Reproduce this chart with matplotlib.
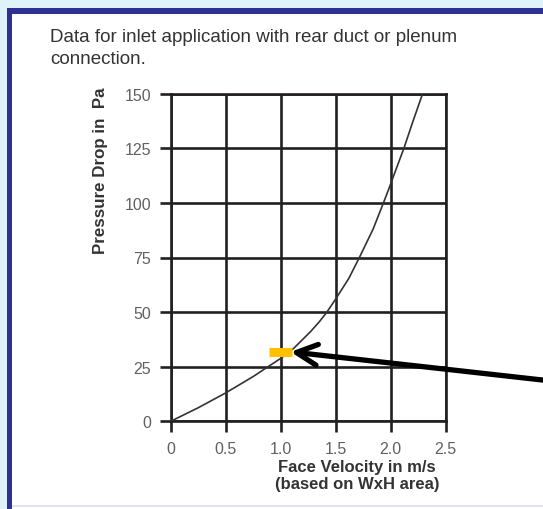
import matplotlib
matplotlib.use('Agg')
import matplotlib.pyplot as plt
from matplotlib.patches import Rectangle

# Curve: face velocity (m/s) vs pressure drop (Pa)
velocity = [0, 0.25, 0.5, 0.75, 0.87, 1.0, 1.12, 1.27, 1.35, 1.42, 1.5, 1.62, 1.72,
            1.84, 1.93, 1.98, 2.02, 2.12, 2.2, 2.29]
pressure = [0, 6.2, 13, 20.5, 24.5, 28.8, 33.5, 41, 45.5, 50, 56, 65.5, 75.5,
            88, 99.5, 106, 111.5, 125, 137, 150]

x_ticks = [0, 0.5, 1.0, 1.5, 2.0, 2.5]
x_tick_labels = ['0', '0.5', '1.0', '1.5', '2.0', '2.5']
y_ticks = [0, 25, 50, 75, 100, 125, 150]

# highlighted operating point (yellow bar) and the arrow pointing at it
marker_x = [0.89, 1.10]
marker_y = 31.8
arrow_tip = (1.09, 31.8)
arrow_tail = (3.54, 18.0)

W, H = 543, 510
plt.rcParams['font.family'] = ['Liberation Sans', 'DejaVu Sans']

fig = plt.figure(figsize=(W / 100, H / 100), dpi=100)


def frac(x, y):
    # pixel coords (top-left origin) to figure fraction
    return x / W, 1 - y / H


# outer frame: light blue strip + navy border + faint bottom line
def rect_px(x0, y0, x1, y1, color):
    fx0, fy1 = frac(x0, y0)
    fx1, fy0 = frac(x1, y1)
    fig.add_artist(Rectangle((fx0, fy0), fx1 - fx0, fy1 - fy0, transform=fig.transFigure,
                             facecolor=color, edgecolor='none', zorder=0))


rect_px(0, 0, W, 9, '#dff2fa')
rect_px(0, 0, 6.5, H, '#dff2fa')
rect_px(6.5, 9, W, 14.5, '#2e3192')
rect_px(6.5, 9, 11.5, H, '#2e3192')
rect_px(11.5, 506, W, 508, '#e2e2f2')

ax = fig.add_axes([170.7 / W, 1 - 422.3 / H, 275 / W, 327.6 / H])

ax.plot(velocity, pressure, color='#333333', lw=1.2, zorder=3)
ax.plot(marker_x, [marker_y, marker_y], color='#ffc000', lw=6.5, solid_capstyle='butt', zorder=4)
ax.annotate('', xy=arrow_tip, xytext=arrow_tail, annotation_clip=False,
            arrowprops=dict(arrowstyle='->,head_length=1.5,head_width=0.75', lw=3.8,
                            color='black', shrinkA=0, shrinkB=0), zorder=5)

ax.set_xlim(0, 2.5)
ax.set_ylim(0, 150)
ax.set_xticks(x_ticks)
ax.set_xticklabels(x_tick_labels)
ax.set_yticks(y_ticks)
ax.grid(True, color='#231f20', lw=1.9)
for s in ax.spines.values():
    s.set_color('#231f20')
    s.set_linewidth(1.9)
ax.tick_params(length=8, width=1.9, color='#231f20', labelsize=11.5, labelcolor='#606060', pad=6)

fig.text(50 / W, 1 - 48.5 / H, 'Data for inlet application with rear duct or plenum\nconnection.',
         fontsize=13.5, color='#333333', va='center', ha='left', linespacing=1.46)
fig.text(100.7 / W, 1 - 171 / H, 'Pressure Drop in  Pa', rotation=90, fontsize=12.2,
         fontweight='bold', color='#333333', ha='center', va='center')
fig.text(357 / W, 1 - 476 / H, 'Face Velocity in m/s\n(based on WxH area)', fontsize=12,
         fontweight='bold', color='#333333', ha='center', va='center', linespacing=1.2)

fig.savefig('out.png', dpi=100)
